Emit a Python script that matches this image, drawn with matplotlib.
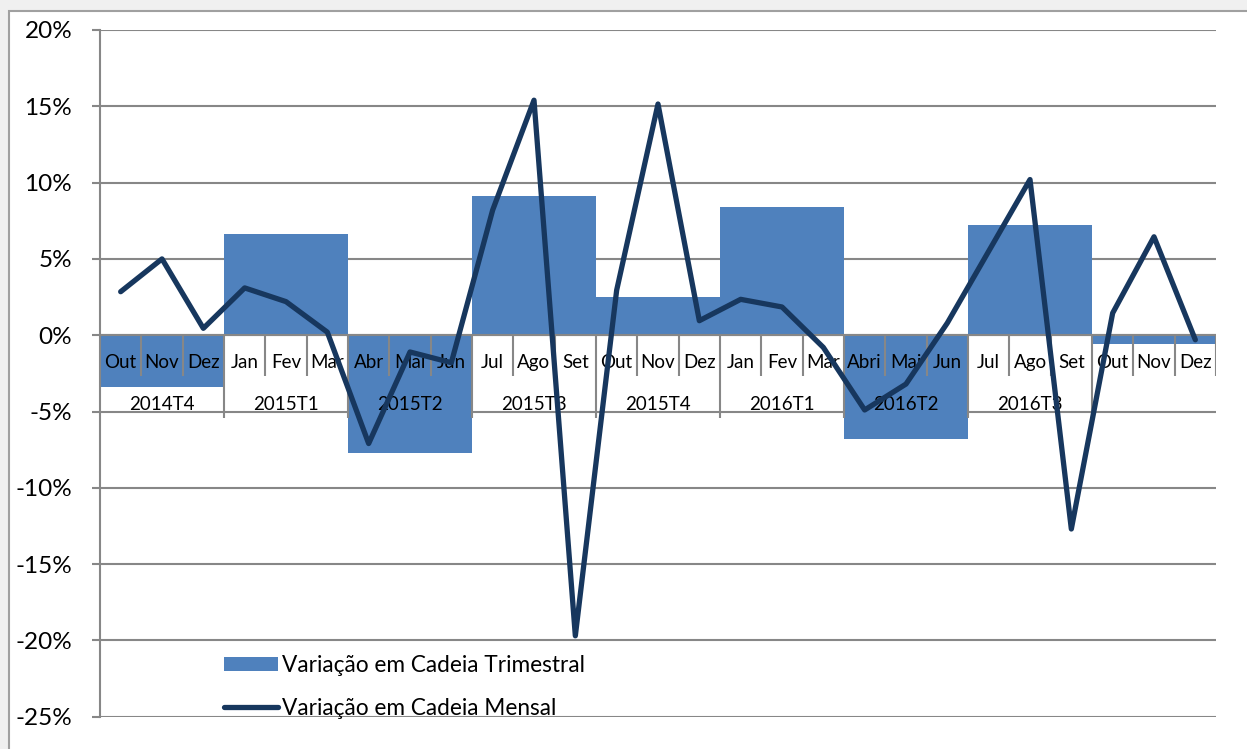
import matplotlib
matplotlib.use("Agg")
import matplotlib.pyplot as plt
from matplotlib.patches import Rectangle

plt.rcParams['font.family'] = ['Lato', 'DejaVu Sans']

# Month and quarter categories
months = ['Out', 'Nov', 'Dez', 'Jan', 'Fev', 'Mar', 'Abr', 'Mai', 'Jun',
          'Jul', 'Ago', 'Set', 'Out', 'Nov', 'Dez', 'Jan', 'Fev', 'Mar',
          'Abri', 'Mai', 'Jun', 'Jul', 'Ago', 'Set', 'Out', 'Nov', 'Dez']
quarters = ['2014T4', '2015T1', '2015T2', '2015T3', '2015T4',
            '2016T1', '2016T2', '2016T3', '']

# Chain variations (%)
quarterly = [-3.4, 6.6, -7.7, 9.1, 2.5, 8.4, -6.8, 7.2, -0.55]
monthly = [2.85, 5.0, 0.45, 3.1, 2.2, 0.2, -7.1, -1.1, -1.8,
           8.2, 15.4, -19.7, 2.95, 15.15, 0.95, 2.35, 1.85, -0.8,
           -4.9, -3.2, 0.8, 5.5, 10.2, -12.7, 1.45, 6.45, -0.3]

yticks = [20, 15, 10, 5, 0, -5, -10, -15, -20, -25]

bar_color = '#4F81BD'
line_color = '#17375E'
grid_color = '#878787'

W, H = 1247, 749
fig = plt.figure(figsize=(W / 100, H / 100), dpi=100, facecolor='#F0F0F0')

# white chart area with a thin border
fig.patches.append(Rectangle((9 / W, -0.1), 1.2, 1 - 11 / H + 0.1,
                             transform=fig.transFigure, facecolor='white',
                             edgecolor='#A0A0A0', lw=1.5, zorder=-10))

left, right, top, bottom = 100 / W, 1216 / W, 1 - 30 / H, 1 - 716.7 / H
ax = fig.add_axes([left, bottom, right - left, top - bottom])
ax.set_facecolor('none')

ax.set_xlim(-0.5, len(months) - 0.5)
ax.set_ylim(-25, 20)
units_per_px = 45 / ((top - bottom) * H)

# gridlines
for v in yticks:
    ax.axhline(v, color=grid_color, lw=1.5, zorder=1)

# quarterly bars, each spanning three months
qx = [3 * i + 1 for i in range(len(quarterly))]
bars = ax.bar(qx, quarterly, width=3, color=bar_color, zorder=2,
              label='Variação em Cadeia Trimestral')

# category axis at zero with month and quarter boxes
ax.axhline(0, color=grid_color, lw=1.5, zorder=3)
for b in range(1, len(months) + 1):
    depth = 83 if (b % 3 == 0 and b < len(months)) else 41
    ax.vlines(b - 0.5, 0, -depth * units_per_px, color=grid_color,
              lw=1.5, zorder=3)
for i, m in enumerate(months):
    ax.annotate(m, xy=(i, 0), xytext=(0, -27), textcoords='offset pixels',
                ha='center', va='center', fontsize=13.5, zorder=4)
for i, q in enumerate(quarters):
    ax.annotate(q, xy=(3 * i + 1, 0), xytext=(0, -69),
                textcoords='offset pixels', ha='center', va='center',
                fontsize=13.5, zorder=4)

# monthly line
line, = ax.plot(range(len(monthly)), monthly, color=line_color, lw=3.8,
                solid_joinstyle='round', solid_capstyle='round', zorder=5,
                label='Variação em Cadeia Mensal')

# axes styling
ax.set_xticks([])
ax.set_yticks(yticks)
ax.set_yticklabels([f'{v}%' for v in yticks], fontsize=17.5)
ax.tick_params(axis='y', direction='out', length=6, width=1.5,
               color=grid_color, pad=14)
for s in ['top', 'right', 'bottom']:
    ax.spines[s].set_visible(False)
ax.spines['left'].set_color(grid_color)
ax.spines['left'].set_linewidth(1.5)

ax.legend(handles=[bars, line], loc='upper left',
          bbox_to_anchor=(224 / W, 1 - 655 / H),
          bbox_transform=fig.transFigure, frameon=False, fontsize=16.3,
          borderpad=0, borderaxespad=0, handlelength=2.4,
          handletextpad=0.15, labelspacing=0.97, handleheight=0.6)

fig.savefig('out.png', dpi=100, facecolor=fig.get_facecolor())
